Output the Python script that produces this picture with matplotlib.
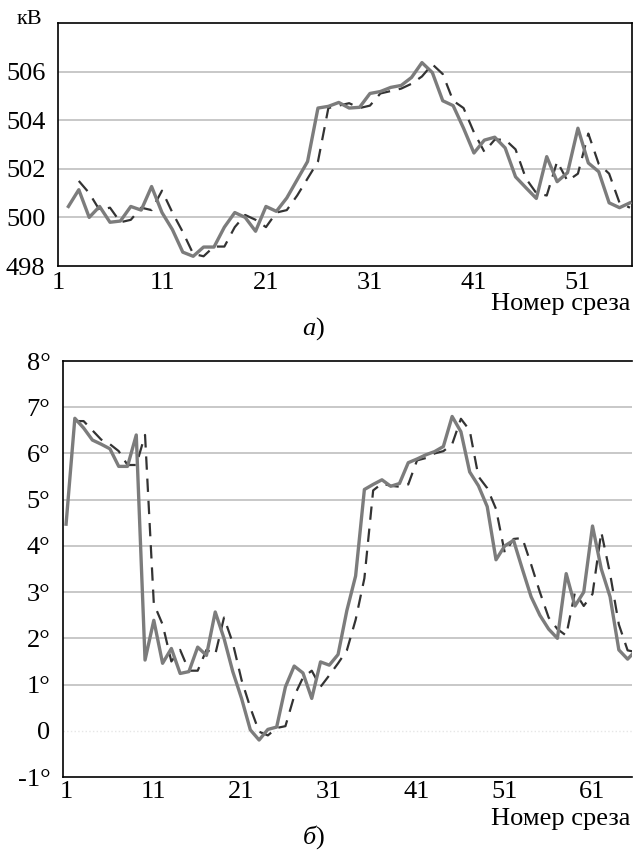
import matplotlib
matplotlib.use('Agg')
import matplotlib.pyplot as plt
import numpy as np

plt.rcParams['font.family'] = ['Liberation Serif', 'DejaVu Serif']

# (a) voltage, kV -- slice numbers 2..56
slices_a = np.arange(2, 57)
measured_a = [500.45, 501.14, 500.0, 500.45, 499.8, 499.85, 500.45, 500.3, 501.27, 500.2,
              499.5, 498.57, 498.4, 498.78, 498.78, 499.6, 500.2, 500.0, 499.43, 500.45,
              500.25, 500.8, 501.55, 502.3, 504.5, 504.57, 504.73, 504.5, 504.53, 505.1,
              505.18, 505.35, 505.43, 505.76, 506.37, 505.96, 504.8, 504.6, 503.67, 502.65,
              503.18, 503.3, 502.86, 501.67, 501.22, 500.78, 502.5, 501.47, 501.84, 503.67,
              502.24, 501.88, 500.6, 500.4, 500.6]
predicted_a = [np.nan,
               501.5, 501.0, 500.3, 500.4, 499.8, 499.9, 500.4, 500.3, 501.1, 500.2,
               499.4, 498.5, 498.4, 498.8, 498.8, 499.6, 500.1, 499.9, 499.6, 500.2,
               500.3, 500.9, 501.6, 502.3, 504.5, 504.6, 504.7, 504.5, 504.6, 505.1,
               505.2, 505.3, 505.5, 505.8, 506.3, 505.9, 504.8, 504.5, 503.5, 502.7,
               503.2, 503.2, 502.8, 501.6, 501.0, 500.9, 502.3, 501.5, 501.8, 503.45,
               502.2, 501.8, 500.6, 500.4]
yticks_a = [498, 500, 502, 504, 506]
xticks_a = [1, 11, 21, 31, 41, 51]

# (b) angle, degrees -- slice numbers 1..66
slices_b = np.arange(1, 67)
measured_b = [4.47, 6.76, 6.55, 6.29, 6.2, 6.1, 5.72, 5.72, 6.4, 1.53,
              2.39, 1.46, 1.78, 1.24, 1.28, 1.81, 1.63, 2.57, 2.0, 1.28,
              0.7, 0.02, -0.2, 0.03, 0.08, 0.95, 1.4, 1.25, 0.7, 1.49,
              1.42, 1.65, 2.6, 3.35, 5.22, 5.33, 5.43, 5.29, 5.35, 5.8,
              5.88, 5.97, 6.04, 6.15, 6.8, 6.47, 5.6, 5.3, 4.85, 3.7,
              4.0, 4.12, 3.5, 2.9, 2.5, 2.2, 2.0, 3.4, 2.7, 3.0,
              4.43, 3.5, 2.9, 1.75, 1.55, 1.75]
predicted_b = [np.nan, 6.7, 6.7, 6.5, 6.3, 6.2, 6.05, 5.75, 5.75, 6.4,
               2.75, 2.3, 1.5, 1.75, 1.3, 1.3, 1.75, 1.65, 2.45, 1.9,
               1.1, 0.5, -0.02, -0.1, 0.06, 0.1, 0.75, 1.15, 1.3, 0.95,
               1.2, 1.46, 1.74, 2.4, 3.3, 5.2, 5.35, 5.3, 5.28, 5.33,
               5.85, 5.9, 6.0, 6.05, 6.2, 6.75, 6.5, 5.5, 5.25, 4.8,
               3.85, 4.15, 4.17, 3.6, 3.0, 2.45, 2.2, 2.06, 3.0, 2.7,
               2.96, 4.3, 3.4, 2.3, 1.74, 1.7]
yticks_b = [-1, 0, 1, 2, 3, 4, 5, 6, 7, 8]
ylabels_b = ['-1°', '0', '1°', '2°', '3°', '4°', '5°', '6°', '7°', '8°']
xticks_b = [1, 11, 21, 31, 41, 51, 61]

solid_color = '#7c7c7c'
dash_color = '#333333'
grid_color = '#c4c4c4'
fs = 19

fig = plt.figure(figsize=(6.35, 8.52), dpi=100)

# ---- chart a ----
ax1 = fig.add_axes([58/635, 1-266/852, 574/635, 243/852])
ax1.plot(slices_a, predicted_a, color=dash_color, lw=1.6, dashes=(6, 4), zorder=2)
ax1.plot(slices_a, measured_a, color=solid_color, lw=2.4, zorder=3)
ax1.set_xlim(1, 56.2)
ax1.set_ylim(498, 508)
ax1.set_yticks(yticks_a)
ax1.set_xticks(xticks_a)
for v in yticks_a[1:]:
    ax1.axhline(v, color=grid_color, lw=1.3, zorder=1)
for s in ax1.spines.values():
    s.set_linewidth(1.2)
ax1.tick_params(length=0, labelsize=fs)
ax1.tick_params(axis='y', pad=9)
ax1.tick_params(axis='x', pad=4)
fig.text(29/635, 1-19/852, 'кВ', fontsize=16, ha='center', va='center')
fig.text(630/635, 1-304/852, 'Номер среза', fontsize=19, ha='right', va='center')
fig.text(0.497, 1-329/852, 'а', fontsize=19, style='italic', ha='right', va='center')
fig.text(0.497, 1-329/852, ')', fontsize=19, ha='left', va='center')

# ---- chart b ----
ax2 = fig.add_axes([63/635, 1-777/852, 569/635, 416/852])
ax2.plot(slices_b, predicted_b, color=dash_color, lw=1.6, dashes=(6, 4), zorder=2)
ax2.plot(slices_b, measured_b, color=solid_color, lw=2.4, zorder=3)
ax2.set_xlim(0.65, 65.5)
ax2.set_ylim(-1, 8)
ax2.set_yticks(yticks_b)
ax2.set_yticklabels(ylabels_b)
ax2.set_xticks(xticks_b)
for v in yticks_b[2:-1]:
    ax2.axhline(v, color=grid_color, lw=1.3, zorder=1)
ax2.axhline(0, color='#e6e6e6', lw=1.0, ls=':', zorder=1)
ax2.spines['right'].set_visible(False)
for s in ['left', 'top', 'bottom']:
    ax2.spines[s].set_linewidth(1.2)
ax2.tick_params(length=0, labelsize=fs)
ax2.tick_params(axis='y', pad=9)
ax2.tick_params(axis='x', pad=3)
fig.text(630/635, 1-819/852, 'Номер среза', fontsize=19, ha='right', va='center')
fig.text(0.497, 1-838/852, 'б', fontsize=19, style='italic', ha='right', va='center')
fig.text(0.497, 1-838/852, ')', fontsize=19, ha='left', va='center')

fig.savefig('out.png', dpi=100)
plt.close(fig)
